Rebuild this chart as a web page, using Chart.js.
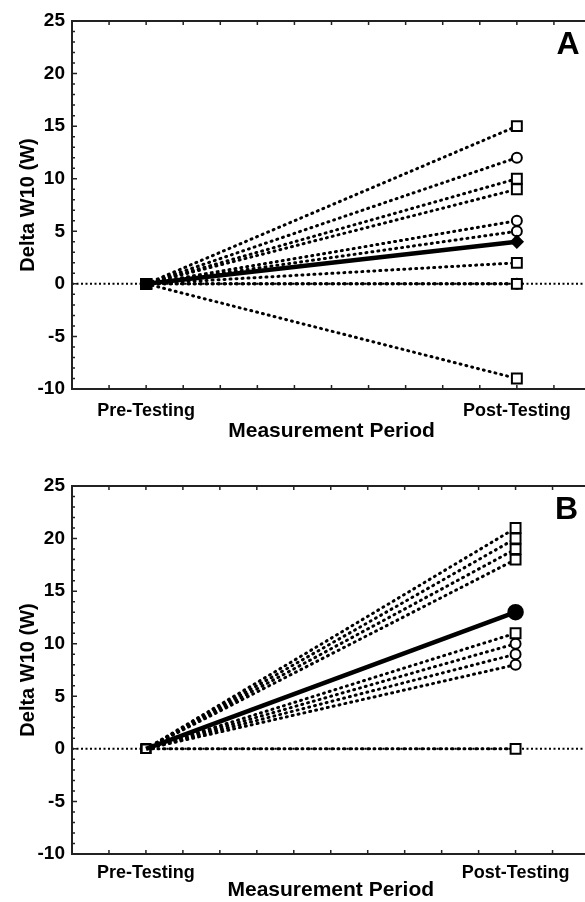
<!DOCTYPE html>
<html>
<head>
<meta charset="utf-8">
<script src="https://cdn.jsdelivr.net/npm/chart.js@4.4.1/dist/chart.umd.min.js"></script>
<style>
  html, body { margin: 0; padding: 0; background: #fff; overflow: hidden; }
  canvas { position: absolute; left: 0; }
  #panelA { top: 0; }
  #panelB { top: 451px; }
</style>
</head>
<body>
<canvas id="panelA" width="600" height="451"></canvas>
<canvas id="panelB" width="600" height="451"></canvas>
<script>
// Dados (variação de W10 entre pré e pós-teste)
const periods = ['Pre-Testing', 'Post-Testing'];
const periodX = [0, 1];
const baseline = 0;

const postA = [15, 12, 10, 9, 6, 5, 2, 0, 0, -9];
const shapeA = ['rect', 'circle', 'rect', 'rect', 'circle', 'circle', 'rect', 'rect', 'circle', 'rect'];
const meanA = [0, 4];

const postB = [21, 20, 19, 18, 11, 10, 9, 8, 0];
const shapeB = ['rect', 'rect', 'rect', 'rect', 'rect', 'circle', 'circle', 'circle', 'rect'];
const meanB = [0, 13];

const yTicks = [-10, -5, 0, 5, 10, 15, 20, 25];
const xMinorTicks = [-0.1, 0, 0.1, 0.2, 0.3, 0.4, 0.5, 0.6, 0.7, 0.8, 0.9, 1, 1.1];

const FONT = '"Liberation Sans", Arial, Helvetica, sans-serif';

// moldura com ticks para dentro, linha zero pontilhada e a letra do painel
const framePlugin = {
    id: 'frame',
    beforeDatasetsDraw(chart) {
        const {ctx, chartArea: a, scales: {y}} = chart;
        const y0 = y.getPixelForValue(0);
        ctx.save();
        ctx.strokeStyle = '#000';
        ctx.lineWidth = 2;
        ctx.setLineDash([2, 2.5]);
        ctx.beginPath();
        ctx.moveTo(a.left, y0);
        ctx.lineTo(a.right, y0);
        ctx.stroke();
        ctx.restore();
    },
    afterDraw(chart) {
        const {ctx, chartArea: a, scales: {x, y}} = chart;
        ctx.save();
        ctx.strokeStyle = '#222';
        ctx.lineWidth = 2;
        ctx.beginPath();
        ctx.moveTo(a.right, a.top);
        ctx.lineTo(a.left, a.top);
        ctx.lineTo(a.left, a.bottom);
        ctx.lineTo(a.right, a.bottom);
        ctx.stroke();
        ctx.lineWidth = 1.5;
        ctx.beginPath();
        for (let v = y.min; v <= y.max; v++) {
            const py = y.getPixelForValue(v);
            ctx.moveTo(a.left, py);
            ctx.lineTo(a.left + (v % 5 === 0 ? 5 : 3), py);
        }
        xMinorTicks.forEach(v => {
            const px = x.getPixelForValue(v);
            ctx.moveTo(px, a.bottom);
            ctx.lineTo(px, a.bottom - 4);
            ctx.moveTo(px, a.top);
            ctx.lineTo(px, a.top + 4);
        });
        ctx.stroke();
        ctx.fillStyle = '#000';
        ctx.font = 'bold 32px ' + FONT;
        ctx.textAlign = 'center';
        ctx.textBaseline = 'middle';
        ctx.fillText(chart.options.panelLetter, a.right - 23, a.top + 24);
        ctx.restore();
    }
};

function subjectSets(post, shapes, preFill, preRadius) {
    return post.map((v, i) => ({
        data: [{x: periodX[0], y: baseline}, {x: periodX[1], y: v}],
        showLine: true,
        borderColor: '#000',
        borderWidth: 3,
        borderCapStyle: 'round',
        borderDash: [1, 5],
        pointStyle: ['rect', shapes[i]],
        pointRadius: [preRadius, shapes[i] === 'rect' ? 7 : 5],
        pointBackgroundColor: [preFill, '#fff'],
        pointBorderColor: '#000',
        pointBorderWidth: 2
    }));
}

function plotarPainel(id, letter, post, shapes, mean, meanStyle, preFill, preRadius, top, xHeight, labelPad, titlePad) {
    const ctx = document.getElementById(id).getContext('2d');
    return new Chart(ctx, {
        type: 'scatter',
        data: {
            datasets: [{
                data: [{x: periodX[0], y: mean[0]}, {x: periodX[1], y: mean[1]}],
                showLine: true,
                borderColor: '#000',
                borderWidth: 4.5,
                pointStyle: meanStyle.style,
                pointRadius: [0, meanStyle.radius],
                pointBackgroundColor: '#000',
                pointBorderColor: '#000'
            }].concat(subjectSets(post, shapes, preFill, preRadius))
        },
        options: {
            responsive: false,
            animation: false,
            panelLetter: letter,
            layout: { padding: { top: top, right: 9, left: 0, bottom: 0 } },
            plugins: { legend: { display: false }, tooltip: { enabled: false } },
            scales: {
                x: {
                    type: 'linear',
                    min: -0.2,
                    max: 1.2,
                    afterBuildTicks: s => { s.ticks = periodX.map(v => ({value: v})); },
                    afterFit: s => { s.height = xHeight; },
                    grid: { display: false, tickLength: 0 },
                    border: { display: false },
                    ticks: {
                        autoSkip: false,
                        maxRotation: 0,
                        padding: labelPad,
                        color: '#000',
                        font: { family: FONT, size: 18, weight: 'bold' },
                        callback: v => periods[periodX.indexOf(v)] || ''
                    },
                    title: {
                        display: true,
                        text: 'Measurement Period',
                        color: '#000',
                        padding: { top: 0, bottom: titlePad },
                        font: { family: FONT, size: 21, weight: 'bold', lineHeight: 1 }
                    }
                },
                y: {
                    min: -10,
                    max: 25,
                    afterBuildTicks: s => { s.ticks = yTicks.map(v => ({value: v})); },
                    afterFit: s => { s.width = 72; },
                    grid: { display: false, tickLength: 0 },
                    border: { display: false },
                    ticks: {
                        padding: 7,
                        color: '#000',
                        font: { family: FONT, size: 19, weight: 'bold' }
                    },
                    title: {
                        display: true,
                        text: 'Delta W10 (W)',
                        color: '#000',
                        padding: { top: 18, bottom: 0 },
                        font: { family: FONT, size: 20, weight: 'bold', lineHeight: 1 }
                    }
                }
            }
        },
        plugins: [framePlugin]
    });
}

window.onload = function () {
    plotarPainel('panelA', 'A', postA, shapeA, meanA, {style: 'rectRot', radius: 4}, '#000', 7, 21, 62, 11, 9);
    plotarPainel('panelB', 'B', postB, shapeB, meanB, {style: 'circle', radius: 6}, '#fff', 6, 35, 48, 8, 1);
};
</script>
</body>
</html>
